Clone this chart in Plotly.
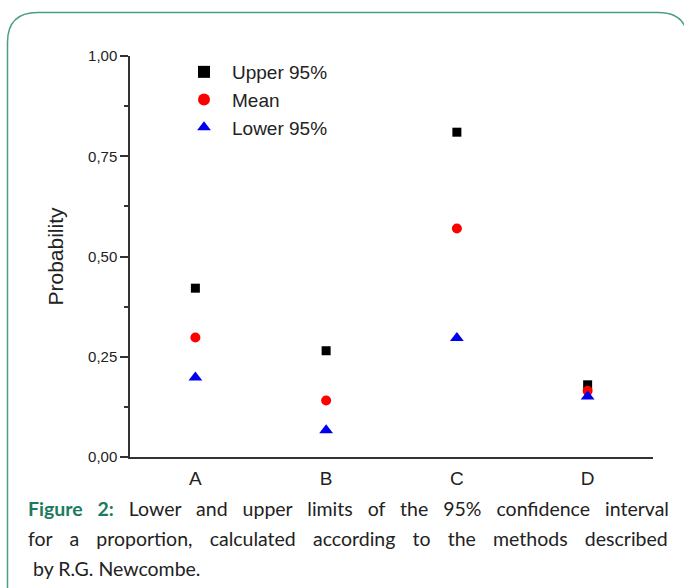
import plotly.graph_objects as go

categories = ["A", "B", "C", "D"]
upper_95 = [0.421, 0.265, 0.81, 0.18]
mean_vals = [0.298, 0.141, 0.570, 0.165]
lower_95 = [0.198, 0.067, 0.297, 0.151]

y_ticks = [0.0, 0.25, 0.5, 0.75, 1.0]

W, H = 684, 588
L, R, T, B = 130, 31, 56, 131
PW, PH = W - L - R, H - T - B


def px(x):
    return (x - L) / PW


def py(y):
    return (H - B - y) / PH


fig = go.Figure()
fig.add_trace(go.Scatter(x=categories, y=upper_95, mode="markers", name="Upper 95%",
                         marker=dict(symbol="square", size=9, color="black")))
fig.add_trace(go.Scatter(x=categories, y=mean_vals, mode="markers", name="Mean",
                         marker=dict(symbol="circle", size=10, color="#ff0000")))
fig.add_trace(go.Scatter(x=categories, y=lower_95, mode="markers", name="Lower 95%",
                         marker=dict(symbol="triangle-up", size=12, color="#0000ee")))

# rounded border
x0, x1, y0, y1, r = 7.5, 688, 12.5, 620, 30
path = (f"M {px(x0)},{py(y1)} L {px(x0)},{py(y0 + r)} "
        f"Q {px(x0)},{py(y0)} {px(x0 + r)},{py(y0)} "
        f"L {px(x1 - r)},{py(y0)} Q {px(x1)},{py(y0)} {px(x1)},{py(y0 + r)} "
        f"L {px(x1)},{py(y1)}")
fig.add_shape(type="path", path=path, xref="paper", yref="paper",
              line=dict(color="#4c9d86", width=1.5), layer="below")

cap_font = dict(family="Lato", size=19.5, color="#222222")
lines = [
    "<span style='word-spacing:10px'><b><span style='color:#1b7b5e'>Figure 2:</span></b> "
    "Lower and upper limits of the 95% confidence interval</span>",
    "<span style='word-spacing:12.2px'>for a proportion, calculated according to the methods described</span>",
    " by R.G. Newcombe.",
]
ys = [508, 538, 568]
for t, yy in zip(lines, ys):
    fig.add_annotation(text=t, xref="paper", yref="paper", x=px(26), y=py(yy),
                       xanchor="left", yanchor="middle", showarrow=False, font=cap_font)

fig.update_layout(
    width=W, height=H,
    margin=dict(l=L, r=R, t=T, b=B),
    paper_bgcolor="white", plot_bgcolor="white",
    separators=",.",
    font=dict(family="Liberation Sans, Arial", color="#222222"),
    showlegend=True,
    legend=dict(x=px(176), y=py(53), xanchor="left", yanchor="top",
                bgcolor="rgba(0,0,0,0)", font=dict(size=19, color="#222222"),
                itemsizing="constant", tracegroupgap=0, itemwidth=46),
    xaxis=dict(range=[-0.5, 3.5], showline=True, linecolor="#333333", linewidth=1.5,
               ticks="", showgrid=False, zeroline=False, ticklabelstandoff=3,
               tickfont=dict(size=19, color="#222222")),
    yaxis=dict(range=[0, 1.0], showline=True, linecolor="#333333", linewidth=1.5,
               tickvals=y_ticks, tickformat=".2f", ticks="outside", ticklen=8,
               tickcolor="#333333", tickwidth=1.5,
               minor=dict(dtick=0.125, ticks="outside", ticklen=4, tickcolor="#333333",
                          tickwidth=1.5, showgrid=False),
               showgrid=False, zeroline=False,
               tickfont=dict(size=15, color="#222222")),
)
fig.update_yaxes(title=dict(text="Probability", font=dict(size=21, color="#222222"), standoff=19))

fig.write_html("out.html", config={"displayModeBar": False},
               post_script="document.body.style.margin='0';")
